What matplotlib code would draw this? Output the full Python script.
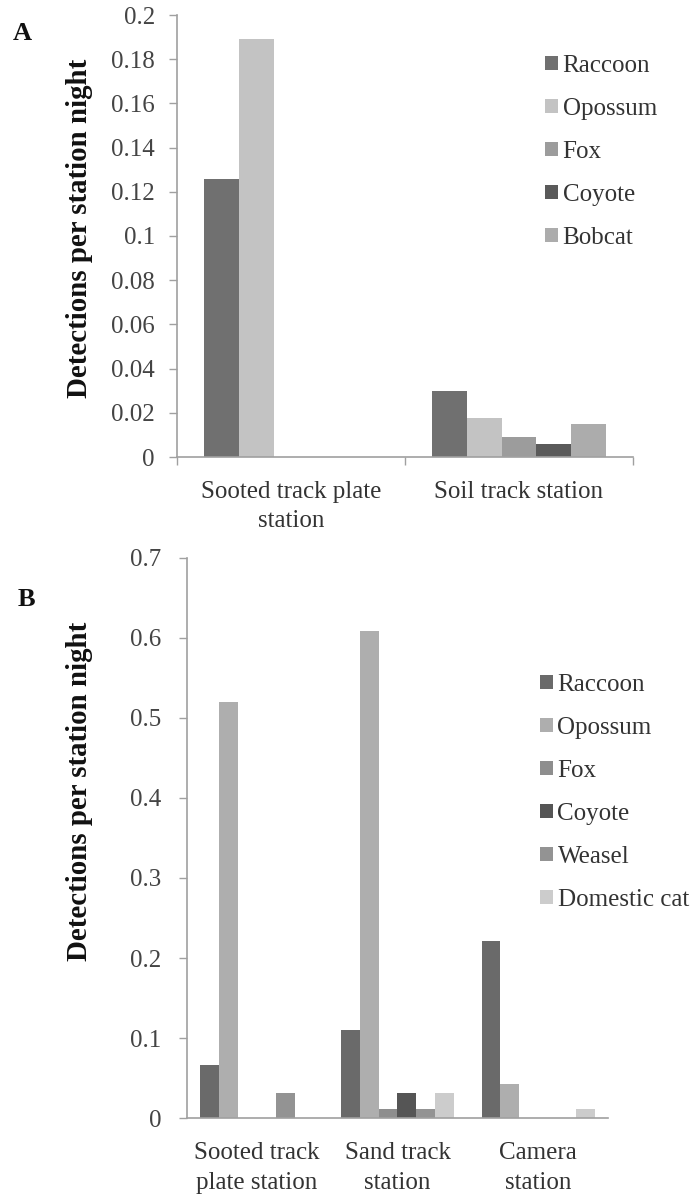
import numpy as np
import matplotlib
matplotlib.use("Agg")
import matplotlib.pyplot as plt

plt.rcParams['font.family'] = ['Liberation Serif', 'DejaVu Serif']

# panel A data
stations_a = ["Sooted track plate\nstation", "Soil track station"]
species_a = ["Raccoon", "Opossum", "Fox", "Coyote", "Bobcat"]
raccoon_a = [0.126, 0.030]
opossum_a = [0.189, 0.0175]
fox_a = [0.0, 0.009]
coyote_a = [0.0, 0.0057]
bobcat_a = [0.0, 0.0148]
colors_a = ["#707070", "#c3c3c3", "#9c9c9c", "#5a5a5a", "#acacac"]
yticks_a = [0, 0.02, 0.04, 0.06, 0.08, 0.1, 0.12, 0.14, 0.16, 0.18, 0.2]

# panel B data
stations_b = ["Sooted track\nplate station", "Sand track\nstation", "Camera\nstation"]
species_b = ["Raccoon", "Opossum", "Fox", "Coyote", "Weasel", "Domestic cat"]
raccoon_b = [0.066, 0.110, 0.221]
opossum_b = [0.520, 0.608, 0.043]
fox_b = [0.0, 0.011, 0.0]
coyote_b = [0.0, 0.032, 0.0]
weasel_b = [0.032, 0.011, 0.0]
cat_b = [0.0, 0.032, 0.011]
colors_b = ["#6a6a6a", "#aeaeae", "#8e8e8e", "#555555", "#939393", "#cccccc"]
yticks_b = [0, 0.1, 0.2, 0.3, 0.4, 0.5, 0.6, 0.7]

W, H = 694, 1199
SPINE = "#a0a0a0"
TXT = "#333333"


def fx(px):
    return px / W


def fy(py):
    return 1 - py / H


def draw_panel(ax, stations, species, series, colors, yticks, bar_w, tick_pad, boundary_ticks):
    n = len(stations)
    x = np.arange(n)
    k = len(series)
    for j, (vals, c) in enumerate(zip(series, colors)):
        ax.bar(x + (j - (k - 1) / 2) * bar_w, vals, width=bar_w, color=c,
               label=species[j], linewidth=0)
    ax.set_xlim(-0.5, n - 0.5)
    ax.set_ylim(0, yticks[-1])
    ax.set_yticks(yticks)
    ax.set_yticklabels([f"{v:g}" for v in yticks])
    ax.set_xticks(x)
    ax.set_xticklabels(stations, fontsize=18, color=TXT, linespacing=1.45)
    ax.tick_params(axis='x', length=0, pad=17)
    ax.tick_params(axis='y', length=6, width=1, color=SPINE, pad=tick_pad,
                   labelsize=18, labelcolor="#444444")
    if boundary_ticks:
        ax.set_xticks(np.arange(n + 1) - 0.5, minor=True)
        ax.tick_params(axis='x', which='minor', length=6, width=1, color=SPINE)
    for s in ['top', 'right']:
        ax.spines[s].set_visible(False)
    for s in ['left', 'bottom']:
        ax.spines[s].set_color(SPINE)
        ax.spines[s].set_linewidth(1.2)


def add_legend(ax, left_px, top_px):
    ax.legend(loc='upper left', bbox_to_anchor=(fx(left_px), fy(top_px)),
              bbox_transform=fig.transFigure, frameon=False, fontsize=18,
              handlelength=0.5, handleheight=0.45, handletextpad=0.2,
              labelspacing=0.84, borderpad=0, borderaxespad=0,
              labelcolor=TXT)


fig = plt.figure(figsize=(W / 100, H / 100), dpi=100)

# panel A
ax_a = fig.add_axes([fx(177), fy(457), fx(456), 442 / H])
draw_panel(ax_a, stations_a, species_a,
           [raccoon_a, opossum_a, fox_a, coyote_a, bobcat_a],
           colors_a, yticks_a, 0.152, 10, True)
add_legend(ax_a, 545, 55)

# panel B
ax_b = fig.add_axes([fx(186.7), fy(1118.3), fx(421.6), 560.7 / H])
draw_panel(ax_b, stations_b, species_b,
           [raccoon_b, opossum_b, fox_b, coyote_b, weasel_b, cat_b],
           colors_b, yticks_b, 0.134, 12, False)
add_legend(ax_b, 540, 674)

# y labels and panel letters
ylab = "Detections per station night"
for yc in (228, 791):
    fig.text(fx(80), fy(yc), ylab, rotation=90, ha='center', va='center',
             fontsize=20.8, fontweight='bold', color="#111111")
fig.text(fx(22), fy(34), "A", ha='center', va='center', fontsize=19,
         fontweight='bold', color="#111111")
fig.text(fx(26), fy(600), "B", ha='center', va='center', fontsize=19,
         fontweight='bold', color="#111111")

fig.savefig("out.png", dpi=100)
